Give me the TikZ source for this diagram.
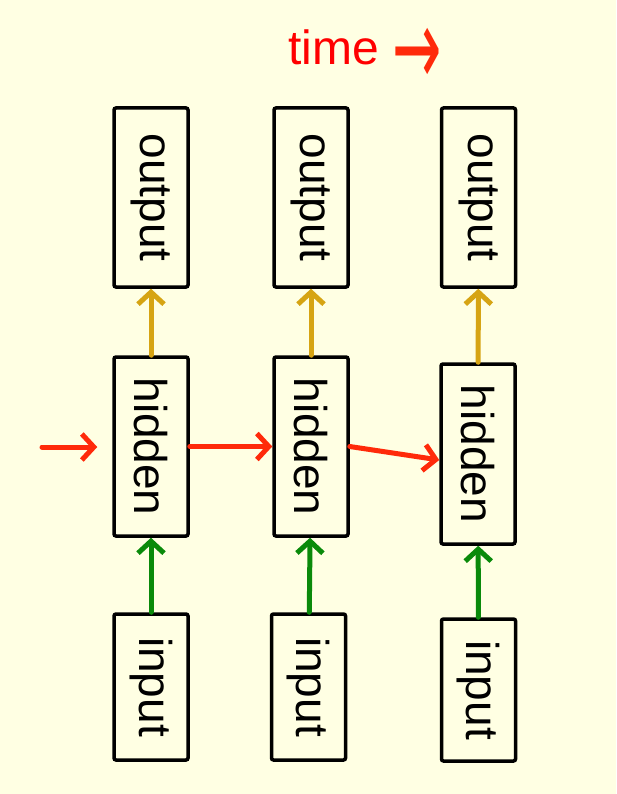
\documentclass[tikz,border=0pt]{standalone}
\usepackage{fontspec}
\setmainfont{Liberation Sans}
\newfontfamily\arrowfont{DejaVu Sans}
\usepackage{graphicx}
\usetikzlibrary{arrows.meta}
\definecolor{RnnBG}{HTML}{FFFFE3}
\definecolor{RnnInk}{HTML}{000000}
\definecolor{RnnRed}{HTML}{FF2A0A}
\definecolor{RnnTime}{HTML}{FF0000}
\definecolor{RnnGreen}{HTML}{0A8A0A}
\definecolor{RnnGold}{HTML}{D6A413}
\tikzset{
  cellbox/.style   = {draw=RnnInk, line width=3.5pt, rounded corners=2pt,
                      minimum width=74pt, minimum height=179pt, inner sep=0pt,
                      font=\fontsize{46}{46}\selectfont, text=RnnInk},
  cellboxs/.style  = {cellbox, minimum height=146pt},
  rnnarr/.style    = {-{Straight Barb[length=12pt, width=26pt]}, line width=5pt,
                      line cap=round},
  recarr/.style    = {rnnarr, RnnRed},
  inarr/.style     = {rnnarr, RnnGreen},
  outarr/.style    = {rnnarr, RnnGold},
  timelbl/.style   = {font=\fontsize{48}{48}\selectfont, text=RnnTime, inner sep=0pt},
}
\newcommand{\vtext}[1]{\rotatebox{-90}{#1}}
\newcommand{\timearrow}{\textcolor{RnnRed}{\raisebox{-21pt}{\scalebox{0.95}[1.75]{\arrowfont\fontsize{62}{62}\selectfont →}}}}

\begin{document}
\begin{tikzpicture}[x=1pt, y=-1pt]
    \fill[RnnBG] (0,0) rectangle (616,794);
    \useasboundingbox (0,0) rectangle (616,794);
    \node[timelbl, anchor=base west] (time) at (288,65) {time \timearrow};
    % outputs
    \node[cellbox] (out1) at (151,197.5) {\vtext{output}};
    \node[cellbox] (out2) at (311,197.5) {\vtext{output}};
    \node[cellbox] (out3) at (478.5,197.5) {\vtext{output}};
    % hidden
    \node[cellbox] (hid1) at (151,446.5) {\vtext{hidden}};
    \node[cellbox] (hid2) at (311,446.5) {\vtext{hidden}};
    \node[cellbox, minimum height=180pt] (hid3) at (478,454) {\vtext{hidden}};
    % inputs
    \node[cellboxs] (in1) at (151,687) {\vtext{input}};
    \node[cellboxs] (in2) at (308.5,687) {\vtext{input}};
    \node[cellboxs, minimum height=142pt] (in3) at (478.5,690) {\vtext{input}};
    \coordinate (start) at (42,447);
    \draw[recarr, shorten >=15pt] (start) -- (hid1.west |- start);
    \draw[recarr] (hid1) -- (hid2);
    \draw[recarr] (hid2.east) -- ([yshift=-6pt]hid3.west);
    \draw[inarr] (in1) -- (hid1); \draw[inarr] (in2) -- (hid2); \draw[inarr] (in3) -- (hid3);
    \draw[outarr] (hid1) -- (out1); \draw[outarr] (hid2) -- (out2); \draw[outarr] (hid3) -- (out3);
\end{tikzpicture}
\end{document}
